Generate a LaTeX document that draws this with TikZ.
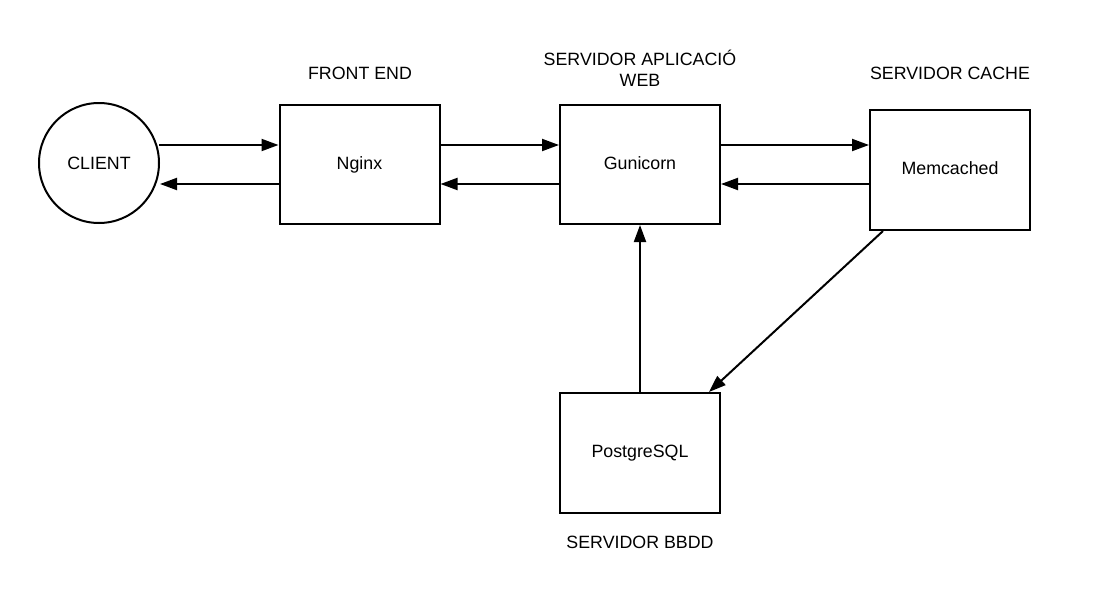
\documentclass[tikz,border=0pt]{standalone}
\usepackage{fontspec}
\setmainfont{Liberation Sans}
\usetikzlibrary{arrows.meta}
\begin{document}
\begin{tikzpicture}[x=1pt,y=-1pt,
  every node/.style={font=\fontsize{17.8}{21}\selectfont},
  box/.style={draw,line width=2pt,minimum width=160pt,minimum height=119pt,inner sep=0pt},
  lbl/.style={align=center,inner sep=0pt},
  conn/.style={line width=2pt,-{Triangle[length=17pt,width=12pt]}}]
\useasboundingbox (0,0) rectangle (1111,613);
\node[draw,circle,line width=2pt,minimum size=120pt,inner sep=0pt] (client) at (99,163) {CLIENT};
\node[box] (nginx) at (359.5,164.5) {Nginx};
\node[box] (guni) at (640,164.5) {\raisebox{2pt}{Gunicorn}};
\node[box,minimum height=120pt] (memc) at (950,170) {\raisebox{3pt}{Memcached}};
\node[box,minimum height=120pt] (pg) at (640,453) {PostgreSQL};
\node[lbl] (l1) at (360,73) {FRONT END};
\node[lbl] (l2) at (640,68) {SERVIDOR APLICACIÓ\\WEB};
\node[lbl] (l3) at (950,73) {SERVIDOR CACHE};
\node[lbl] (l4) at (640,542) {SERVIDOR BBDD};
\draw[conn] (client.east|-0,145) ++(-1,0) -- (nginx.west|-0,145);
\draw[conn] (nginx.west|-0,184) -- (client.east|-0,184);
\draw[conn] (nginx.east|-0,145) -- (guni.west|-0,145);
\draw[conn] (guni.west|-0,184) -- (nginx.east|-0,184);
\draw[conn] (guni.east|-0,145) -- (memc.west|-0,145);
\draw[conn] (memc.west|-0,184) -- (guni.east|-0,184);
\draw[conn] (pg.north) -- (guni.south);
\draw[conn] (memc.south west) ++(14,0) -- ([xshift=-12pt]pg.north east);
\end{tikzpicture}
\end{document}
